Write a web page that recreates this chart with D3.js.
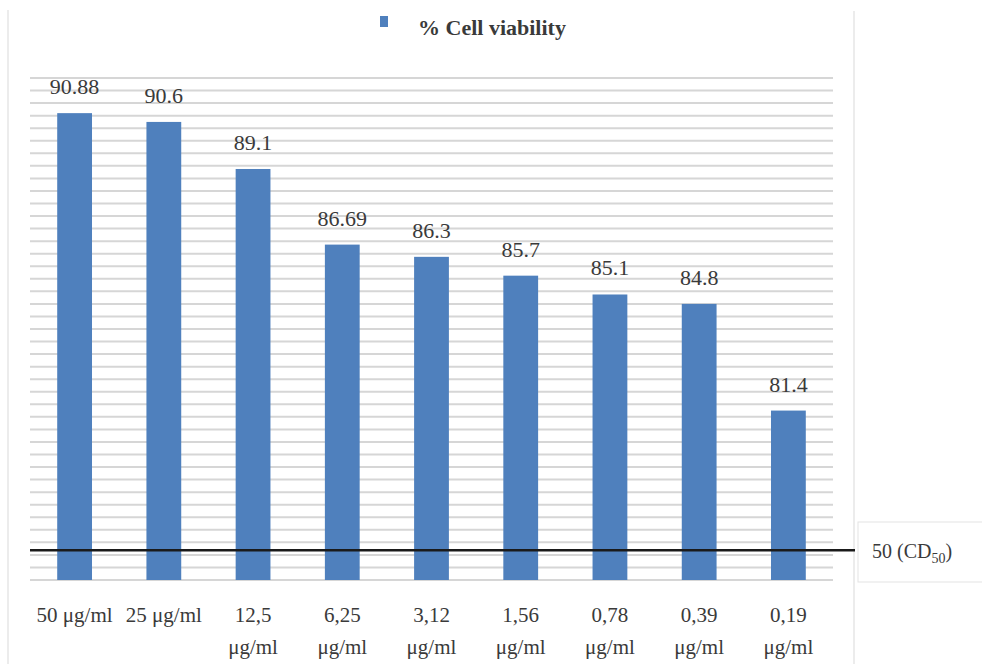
<!DOCTYPE html>
<html>
<head>
<meta charset="utf-8">
<script src="https://cdn.jsdelivr.net/npm/d3@7"></script>
<style>
  html, body { margin: 0; padding: 0; background: #fff; }
  svg { display: block; }
  text { font-family: "Liberation Serif", "Times New Roman", Times, Tinos, "DejaVu Serif", "Noto Serif", serif; fill: #3a3a3a; }
</style>
</head>
<body>
<div id="chart"></div>
<script>
// Data
const categories = [
  ['50 μg/ml'], ['25 μg/ml'], ['12,5', 'μg/ml'], ['6,25', 'μg/ml'], ['3,12', 'μg/ml'],
  ['1,56', 'μg/ml'], ['0,78', 'μg/ml'], ['0,39', 'μg/ml'], ['0,19', 'μg/ml']
];
const viability = [90.88, 90.6, 89.1, 86.69, 86.3, 85.7, 85.1, 84.8, 81.4];
const valueLabels = ['90.88', '90.6', '89.1', '86.69', '86.3', '85.7', '85.1', '84.8', '81.4'];
const seriesName = '% Cell viability';

// the axis is broken: the CD50 reference line sits just above the bar baseline
const cdLinePos = 76.95;

const width = 982;
const height = 664;
const margin = { top: 78, right: 149, bottom: 84, left: 30 };

const svg = d3.select('#chart').append('svg')
  .attr('width', width)
  .attr('height', height);

// frame lines
svg.append('line')
  .attr('x1', 8).attr('x2', 8).attr('y1', 10).attr('y2', height)
  .attr('stroke', '#e6e6e6').attr('stroke-width', 1.5);
svg.append('line')
  .attr('x1', 854).attr('x2', 854).attr('y1', 11).attr('y2', height)
  .attr('stroke', '#e6e6e6').attr('stroke-width', 1.5);

let x = d3.scaleBand()
  .domain(d3.range(categories.length))
  .range([margin.left, width - margin.right])
  .paddingInner(0.61)
  .paddingOuter(0.305);

let y = d3.scaleLinear()
  .domain([76, 92])
  .range([height - margin.bottom, margin.top]);

// gridlines every 0.4
let gridTicks = d3.range(0, 41).map(i => 76 + i * 0.4);
svg.append('g')
  .selectAll('line')
  .data(gridTicks)
  .enter().append('line')
  .attr('x1', margin.left)
  .attr('x2', width - margin.right)
  .attr('y1', d => y(d))
  .attr('y2', d => y(d))
  .attr('stroke', '#d6d6d6')
  .attr('stroke-width', 2);

// bars
svg.append('g')
  .selectAll('rect')
  .data(viability)
  .enter().append('rect')
  .attr('x', (d, i) => x(i))
  .attr('y', d => y(d))
  .attr('width', x.bandwidth())
  .attr('height', d => y(76) - y(d))
  .attr('fill', '#4f80bd');

// value labels
svg.append('g')
  .selectAll('text')
  .data(viability)
  .enter().append('text')
  .attr('x', (d, i) => x(i) + x.bandwidth() / 2)
  .attr('y', d => y(d) - 19)
  .attr('text-anchor', 'middle')
  .style('font-size', '22px')
  .text((d, i) => valueLabels[i]);

// category labels
let catGroups = svg.append('g')
  .selectAll('text')
  .data(categories)
  .enter().append('text')
  .attr('x', (d, i) => x(i) + x.bandwidth() / 2)
  .attr('y', 622)
  .attr('text-anchor', 'middle')
  .style('font-size', '21px');
catGroups.selectAll('tspan')
  .data(d => d)
  .enter().append('tspan')
  .attr('x', function() { return d3.select(this.parentNode).attr('x'); })
  .attr('dy', (d, i) => i === 0 ? 0 : 32)
  .text(d => d);

// CD50 reference line
svg.append('line')
  .attr('x1', margin.left)
  .attr('x2', 855)
  .attr('y1', y(cdLinePos))
  .attr('y2', y(cdLinePos))
  .attr('stroke', '#1a1a1a')
  .attr('stroke-width', 2.5);

svg.append('rect')
  .attr('x', 858).attr('y', 522)
  .attr('width', 140).attr('height', 60)
  .attr('fill', '#fff')
  .attr('stroke', '#e3e3e3');

let cdText = svg.append('text')
  .attr('x', 872)
  .attr('y', y(cdLinePos) + 8)
  .style('font-size', '20px');
cdText.append('tspan').text('50 (CD');
cdText.append('tspan').attr('dy', 5).style('font-size', '14px').text('50');
cdText.append('tspan').attr('dy', -5).text(')');

// legend
svg.append('rect')
  .attr('x', 380).attr('y', 16)
  .attr('width', 8).attr('height', 11)
  .attr('fill', '#4f80bd');
svg.append('text')
  .attr('x', 418)
  .attr('y', 35)
  .style('font-size', '22px')
  .style('font-weight', 'bold')
  .text(seriesName);
</script>
</body>
</html>
